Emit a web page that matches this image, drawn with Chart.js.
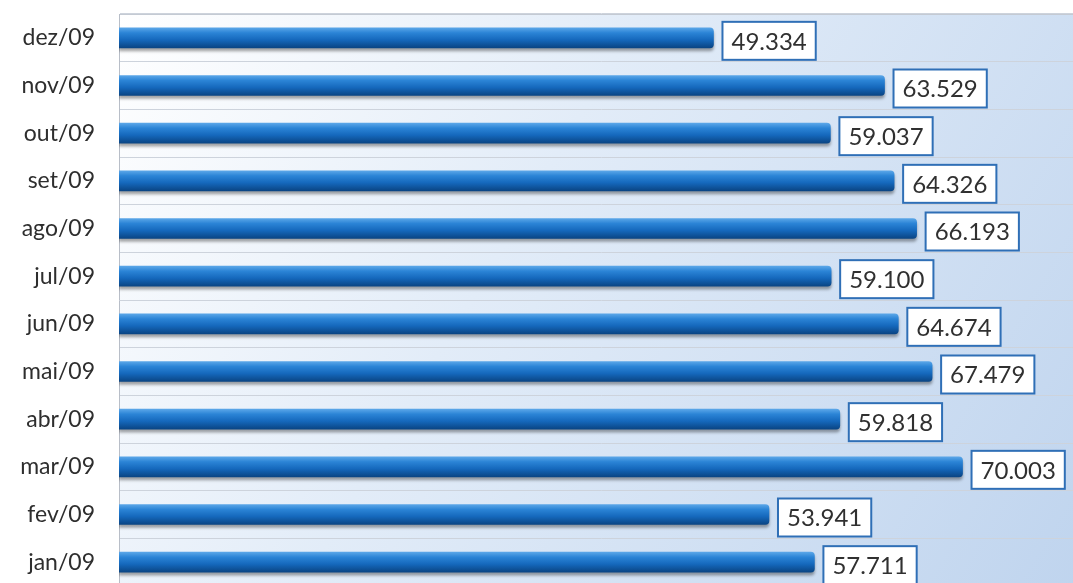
<!DOCTYPE html>
<html lang="pt">
<head>
<meta charset="UTF-8">
<title>Valores mensais 2009</title>
<style>
    html, body { margin: 0; padding: 0; overflow: hidden; background: #fff; }
    canvas { display: block; }
</style>
</head>
<body>
<canvas id="myChart" width="1090" height="600"></canvas>

<script src="https://cdn.jsdelivr.net/npm/chart.js"></script>
<script>
// months in chronological order (the axis is reversed so jan sits at the bottom)
const months = ['jan/09', 'fev/09', 'mar/09', 'abr/09', 'mai/09', 'jun/09',
                'jul/09', 'ago/09', 'set/09', 'out/09', 'nov/09', 'dez/09'];
const values = [57711, 53941, 70003, 59818, 67479, 64674,
                59100, 66193, 64326, 59037, 63529, 49334];
const xMax = 80000;

const fmt = v => v.toLocaleString('pt-BR');

// gradient background of the plot area
const plotBackground = {
    id: 'plotBackground',
    beforeDraw(chart) {
        const { ctx, chartArea: a } = chart;
        const g = ctx.createLinearGradient(a.left, a.top, a.right, a.bottom);
        g.addColorStop(0, '#ffffff');
        g.addColorStop(0.4, '#e2ecf8');
        g.addColorStop(1, '#bfd4ee');
        ctx.save();
        ctx.fillStyle = g;
        ctx.fillRect(a.left, a.top, a.right - a.left, a.bottom - a.top);
        ctx.strokeStyle = '#c4cad3';
        ctx.lineWidth = 1;
        ctx.beginPath();
        ctx.moveTo(a.left, a.top + 0.5);
        ctx.lineTo(a.right, a.top + 0.5);
        ctx.stroke();
        ctx.restore();
    }
};

// soft shadow under the bars
const barShadow = {
    id: 'barShadow',
    beforeDatasetsDraw(chart) {
        const ctx = chart.ctx;
        ctx.save();
        ctx.shadowColor = 'rgba(0,0,0,0.35)';
        ctx.shadowBlur = 3;
        ctx.shadowOffsetY = 3;
    },
    afterDatasetsDraw(chart) {
        chart.ctx.restore();
    }
};

// boxed value labels to the right of each bar
const valueBoxes = {
    id: 'valueBoxes',
    afterDatasetsDraw(chart) {
        const ctx = chart.ctx;
        const meta = chart.getDatasetMeta(0);
        ctx.save();
        ctx.font = '24px Lato, "Noto Sans", sans-serif';
        ctx.textBaseline = 'middle';
        meta.data.forEach((bar, i) => {
            const txt = fmt(values[i]);
            const w = ctx.measureText(txt).width + 18;
            const h = 38;
            const x = bar.x + 9;
            const y = bar.y + 3 - h / 2;
            ctx.fillStyle = '#ffffff';
            ctx.fillRect(x, y, w, h);
            ctx.lineWidth = 2;
            ctx.strokeStyle = '#2f6fb6';
            ctx.strokeRect(x, y, w, h);
            ctx.fillStyle = '#303030';
            ctx.fillText(txt, x + 9, y + h / 2 + 1);
        });
        ctx.restore();
    }
};

function barFill(context) {
    const chart = context.chart;
    if (!chart.chartArea || !chart.scales.y) return '#1a6fc2';
    const yc = chart.scales.y.getPixelForValue(context.dataIndex);
    const g = chart.ctx.createLinearGradient(0, yc - 10, 0, yc + 10);
    g.addColorStop(0, '#5aa6e8');
    g.addColorStop(0.25, '#2b84d6');
    g.addColorStop(0.6, '#1568bc');
    g.addColorStop(1, '#0a4584');
    return g;
}

const ctx = document.getElementById('myChart').getContext('2d');
const myChart = new Chart(ctx, {
    type: 'bar',
    data: {
        labels: months,
        datasets: [{
            data: values,
            backgroundColor: barFill,
            barThickness: 20,
            borderRadius: 4,
            borderSkipped: 'start'
        }]
    },
    options: {
        indexAxis: 'y',
        responsive: false,
        animation: false,
        layout: { padding: { top: 14, bottom: 14, right: 7, left: 0 } },
        plugins: {
            legend: { display: false },
            tooltip: { enabled: false }
        },
        scales: {
            x: {
                display: false,
                min: 0,
                max: xMax
            },
            y: {
                reverse: true,
                afterFit(scale) {
                    scale.width = 119;
                    scale.paddingTop = 0;
                    scale.paddingBottom = 0;
                },
                grid: {
                    color: '#cdd3dc',
                    lineWidth: 1,
                    drawTicks: false
                },
                border: { display: true, color: '#b8bec8', width: 1 },
                ticks: {
                    color: '#2e2e2e',
                    padding: 24,
                    font: { family: 'Lato, "Noto Sans", sans-serif', size: 23 }
                }
            }
        }
    },
    plugins: [plotBackground, barShadow, valueBoxes]
});
</script>
</body>
</html>
